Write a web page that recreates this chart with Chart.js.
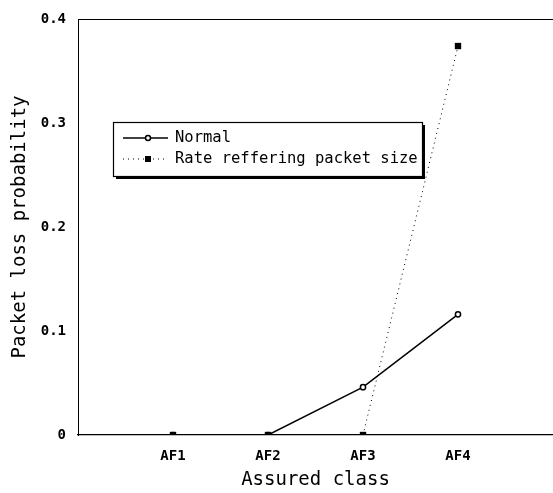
<!DOCTYPE html>
<html>
<head>
<meta charset="utf-8">
<script src="https://cdn.jsdelivr.net/npm/chart.js@4"></script>
<style>
html,body{margin:0;padding:0;background:#fff;}
#wrap{width:553px;height:493px;}
</style>
</head>
<body>
<div id="wrap"><canvas id="c" width="553" height="493"></canvas></div>
<script>
const categories = ['AF1', 'AF2', 'AF3', 'AF4'];
const normalValues = [0, 0, 0.046, 0.116];
const rateValues = [0, 0, 0, 0.374];
const seriesNames = ['Normal', 'Rate reffering packet size'];
const yTicks = [0, 0.1, 0.2, 0.3, 0.4];

const MONO = "'DejaVu Sans Mono', 'Liberation Mono', monospace";

const toPoints = vals => vals.map((v, i) => ({x: i + 1, y: v}));

const legendPlugin = {
  id: 'boxLegend',
  afterDraw(chart) {
    const ctx = chart.ctx;
    const ca = chart.chartArea;
    ctx.save();
    // top frame line
    ctx.strokeStyle = '#000';
    ctx.lineWidth = 1;
    ctx.beginPath();
    ctx.moveTo(ca.left, ca.top + 0.5);
    ctx.lineTo(chart.width, ca.top + 0.5);
    ctx.stroke();
    // legend box with shadow
    const bx = 113, by = 122, bw = 309, bh = 54;
    ctx.fillStyle = '#000';
    ctx.fillRect(bx + 3, by + 3, bw, bh);
    ctx.fillStyle = '#fff';
    ctx.fillRect(bx, by, bw, bh);
    ctx.lineWidth = 1.2;
    ctx.strokeRect(bx + 0.5, by + 0.5, bw, bh);
    const rows = [138, 159];
    chart.data.datasets.forEach((ds, i) => {
      const y = rows[i];
      ctx.save();
      ctx.strokeStyle = '#000';
      ctx.lineWidth = ds.borderWidth;
      ctx.setLineDash(ds.borderDash || []);
      ctx.beginPath();
      ctx.moveTo(123, y);
      ctx.lineTo(168, y);
      ctx.stroke();
      ctx.setLineDash([]);
      if (ds.pointStyle === 'rect') {
        ctx.fillStyle = '#000';
        ctx.fillRect(148 - 3, y - 3, 6, 6);
      } else {
        ctx.beginPath();
        ctx.arc(148, y, 2.5, 0, Math.PI * 2);
        ctx.fillStyle = '#fff';
        ctx.fill();
        ctx.lineWidth = 1.5;
        ctx.stroke();
      }
      ctx.restore();
      ctx.fillStyle = '#000';
      ctx.font = '15.5px ' + MONO;
      ctx.textBaseline = 'middle';
      ctx.textAlign = 'left';
      ctx.fillText(ds.label, 175, y);
    });
    ctx.restore();
  }
};

const bgPlugin = {
  id: 'bg',
  beforeDraw(chart) {
    const ctx = chart.ctx;
    ctx.save();
    ctx.fillStyle = '#fff';
    ctx.fillRect(0, 0, chart.width, chart.height);
    ctx.restore();
  }
};

new Chart(document.getElementById('c'), {
  type: 'line',
  data: {
    datasets: [
      {
        label: seriesNames[0],
        data: toPoints(normalValues),
        order: 1,
        borderColor: '#000',
        borderWidth: 1.5,
        pointStyle: 'circle',
        pointRadius: 2.6,
        pointBackgroundColor: '#fff',
        pointBorderColor: '#000',
        pointBorderWidth: 1.5,
        tension: 0
      },
      {
        label: seriesNames[1],
        data: toPoints(rateValues),
        order: 0,
        borderColor: '#000',
        borderWidth: 1,
        borderDash: [1, 4],
        pointStyle: 'rect',
        pointRadius: 4.5,
        pointBackgroundColor: '#000',
        pointBorderColor: '#000',
        pointBorderWidth: 0,
        tension: 0
      }
    ]
  },
  options: {
    responsive: false,
    animation: false,
    devicePixelRatio: 1,
    layout: {autoPadding: false, padding: {top: 19, right: 0, left: 0, bottom: 0}},
    plugins: {legend: {display: false}, tooltip: {enabled: false}},
    scales: {
      x: {
        type: 'linear',
        min: 0,
        max: 5,
        afterFit(s) { s.height = 58; s.paddingLeft = 0; s.paddingRight = 0; },
        afterBuildTicks(s) { s.ticks = categories.map((c, i) => ({value: i + 1})); },
        ticks: {
          color: '#000',
          font: {family: MONO, size: 14, weight: 'bold'},
          padding: 13,
          callback: v => categories[v - 1] || ''
        },
        grid: {display: false, drawTicks: false},
        border: {display: true, color: '#000', width: 1.3},
        title: {
          display: true,
          text: 'Assured class',
          color: '#000',
          font: {family: MONO, size: 19},
          padding: {top: 0, bottom: 2}
        }
      },
      y: {
        min: 0,
        max: 0.4,
        afterFit(s) { s.width = 78; s.paddingTop = 0; s.paddingBottom = 0; },
        afterBuildTicks(s) { s.ticks = yTicks.map(v => ({value: v})); },
        ticks: {
          color: '#000',
          font: {family: MONO, size: 14, weight: 'bold'},
          padding: 12,
          callback: v => v === 0 ? '0' : v.toFixed(1)
        },
        grid: {display: false, drawTicks: false},
        border: {display: true, color: '#000', width: 1},
        title: {
          display: true,
          text: 'Packet loss probability',
          color: '#000',
          font: {family: MONO, size: 19},
          padding: {top: 9, bottom: 0}
        }
      }
    }
  },
  plugins: [bgPlugin, legendPlugin]
});
</script>
</body>
</html>
